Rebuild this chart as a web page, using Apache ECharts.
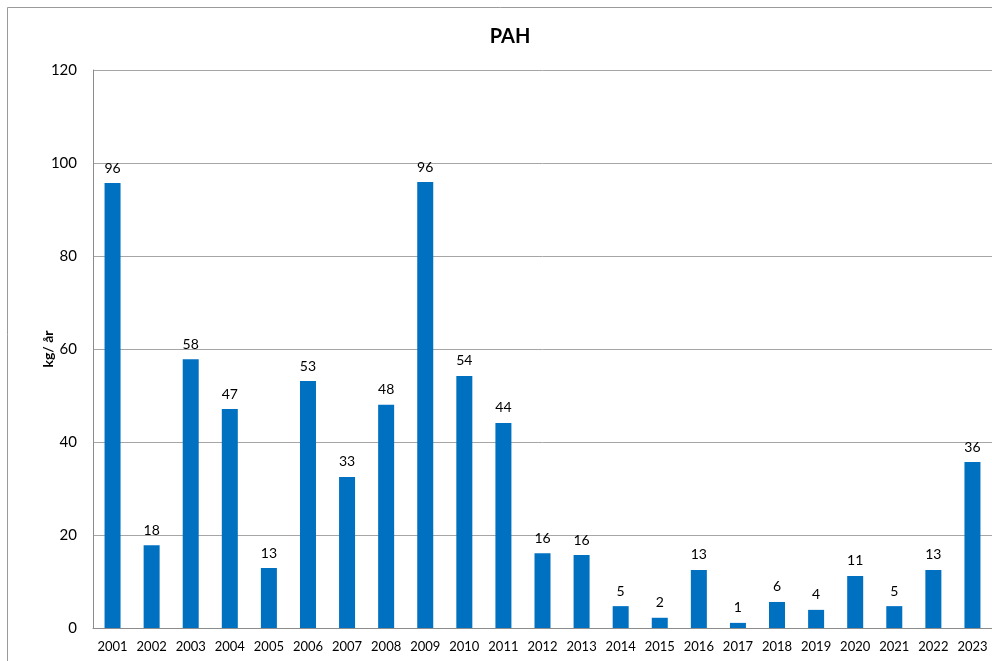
<!DOCTYPE html>
<html>
<head>
<meta charset="utf-8">
<script src="https://cdn.jsdelivr.net/npm/echarts@6/dist/echarts.min.js"></script>
<style>
  html, body { margin: 0; padding: 0; background: #fff; }
  #chart { width: 992px; height: 661px; }
</style>
</head>
<body>
<div id="chart"></div>
<script>
// årtal och värden (kg/år)
var years = ["2001", "2002", "2003", "2004", "2005", "2006", "2007", "2008", "2009", "2010", "2011", "2012",
    "2013", "2014", "2015", "2016", "2017", "2018", "2019", "2020", "2021", "2022", "2023"];
var pahValues = [95.7, 17.8, 57.8, 47.1, 12.9, 53.1, 32.5, 48.0, 95.9, 54.2, 44.1, 16.1,
    15.7, 4.7, 2.2, 12.5, 1.1, 5.6, 3.9, 11.2, 4.7, 12.5, 35.7];
var yTicks = [0, 20, 40, 60, 80, 100, 120];

var myChart = echarts.init(document.getElementById("chart"));
var font = "Lato, 'Open Sans', sans-serif";

myChart.setOption({
    animation: false,
    textStyle: { fontFamily: font },
    title: {
        text: "PAH",
        left: 505,
        top: 22,
        textAlign: "center",
        textStyle: { fontSize: 20, fontWeight: "bold", color: "#000", fontFamily: font }
    },
    graphic: [
        {
            type: "rect",
            shape: { x: 7.5, y: 7.5, width: 1100, height: 800 },
            style: { fill: "none", stroke: "#9a9a9a", lineWidth: 1 },
            z: -1
        }
    ],
    grid: { left: 93, top: 70, right: 0, bottom: 33 },
    xAxis: {
        type: "category",
        data: years,
        axisLine: { lineStyle: { color: "#8c8c8c" } },
        axisTick: { show: false },
        axisLabel: { color: "#000", fontSize: 13, margin: 12, interval: 0 }
    },
    yAxis: {
        type: "value",
        min: yTicks[0],
        max: yTicks[yTicks.length - 1],
        interval: 20,
        name: "kg/ år",
        nameLocation: "middle",
        nameGap: 38,
        nameMoveOverlap: false,
        nameTextStyle: { fontSize: 14, fontWeight: "bold", color: "#000" },
        axisLine: { show: true, lineStyle: { color: "#8c8c8c" } },
        axisTick: { show: false },
        axisLabel: { color: "#000", fontSize: 15, margin: 16 },
        splitLine: { lineStyle: { color: "#a6a6a6" } }
    },
    series: [
        {
            type: "bar",
            data: pahValues,
            barWidth: 16,
            itemStyle: { color: "#0070c0" },
            label: {
                show: true,
                position: "top",
                distance: 8,
                color: "#000",
                fontSize: 14,
                formatter: function (p) { return Math.round(p.value); }
            }
        }
    ]
});
</script>
</body>
</html>
